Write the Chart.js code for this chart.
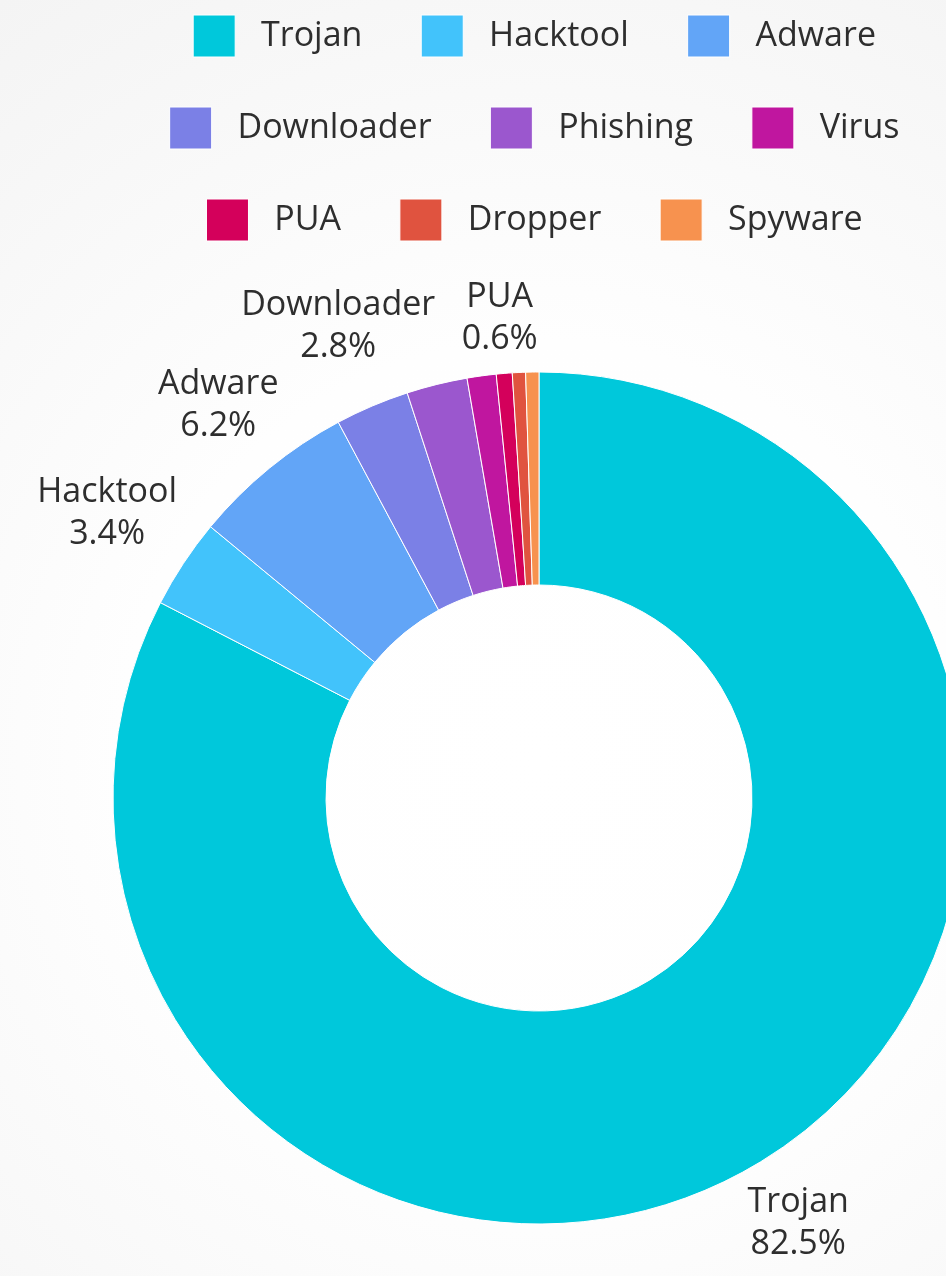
<!DOCTYPE html>
<html>
<head>
<meta charset="utf-8">
<script src="https://cdn.jsdelivr.net/npm/chart.js@4/dist/chart.umd.min.js"></script>
<style>
  html, body { margin: 0; padding: 0; width: 946px; height: 1276px; overflow: hidden; }
  body {
    background: radial-gradient(circle at 540px 760px, #ffffff 0px, #fefefe 420px, #f6f6f6 820px, #f1f1f1 1100px);
    position: relative;
  }
  #chart { position: absolute; left: 0px; top: -35px; }
</style>
</head>
<body>
<canvas id="chart" width="1078" height="1380"></canvas>
<script>
const categories = ['Trojan', 'Hacktool', 'Adware', 'Downloader', 'Phishing', 'Virus', 'PUA', 'Dropper', 'Spyware'];
const shares = [82.5, 3.4, 6.2, 2.8, 2.3, 1.1, 0.6, 0.5, 0.5];
const sliceColors = ['#00C8DB', '#42C3FB', '#62A5F7', '#7B80E6', '#9B57CE', '#C0169F', '#D4005B', '#E0533F', '#F7924F'];

Chart.defaults.font.family = "'Open Sans', sans-serif";
Chart.defaults.color = '#2e2e2e';

const outerLabels = {
  id: 'outerLabels',
  afterDatasetsDraw(chart, args, opts) {
    const ctx = chart.ctx;
    const meta = chart.getDatasetMeta(0);
    const placed = [];
    const m = 1;
    const inset = 6;
    ctx.save();
    ctx.font = opts.size + "px 'Open Sans'";
    ctx.fillStyle = opts.color;
    ctx.textAlign = 'center';
    ctx.textBaseline = 'middle';
    meta.data.forEach((arc, i) => {
      const p = arc.getProps(['x', 'y', 'startAngle', 'endAngle', 'outerRadius'], true);
      const mid = (p.startAngle + p.endAngle) / 2;
      const lines = [categories[i], shares[i].toFixed(1) + '%'];
      const w = Math.max(...lines.map(t => ctx.measureText(t).width));
      const h = lines.length * opts.lineHeight;
      const cx = Math.cos(mid), cy = Math.sin(mid);
      const ext = Math.abs(cx) * w / 2 + Math.abs(cy) * h / 2;
      const d = p.outerRadius + opts.gap + ext;
      const x = p.x + cx * d, y = p.y + cy * d;
      const box = {l: x - w / 2 - m, r: x + w / 2 + m, t: y - h / 2 + inset - m, b: y + h / 2 - inset + m};
      if (placed.some(b => box.l < b.r && box.r > b.l && box.t < b.b && box.b > b.t)) return;
      placed.push(box);
      lines.forEach((t, k) => ctx.fillText(t, x, y - h / 2 + opts.lineHeight * (k + 0.5)));
    });
    ctx.restore();
  }
};

const baseLabels = Chart.overrides.doughnut.plugins.legend.labels.generateLabels;

new Chart(document.getElementById('chart'), {
  type: 'doughnut',
  data: {
    labels: categories,
    datasets: [{
      data: shares,
      backgroundColor: sliceColors,
      borderColor: '#ffffff',
      borderWidth: 1,
      radius: 426,
      cutout: '50%'
    }]
  },
  options: {
    responsive: false,
    animation: false,
    layout: { padding: { left: 60, right: 60, top: 0, bottom: 0 } },
    plugins: {
      tooltip: { enabled: false },
      legend: {
        position: 'top',
        align: 'center',
        labels: {
          boxWidth: 42,
          boxHeight: 42,
          padding: 50,
          color: '#2e2e2e',
          font: { size: 34, family: "'Open Sans', sans-serif" },
          generateLabels(chart) {
            return baseLabels(chart).map(item => Object.assign(item, { text: ' ' + item.text + ' ' }));
          }
        }
      },
      outerLabels: { size: 34, lineHeight: 42, gap: 10, color: '#2e2e2e' }
    }
  },
  plugins: [outerLabels]
});
</script>
</body>
</html>
